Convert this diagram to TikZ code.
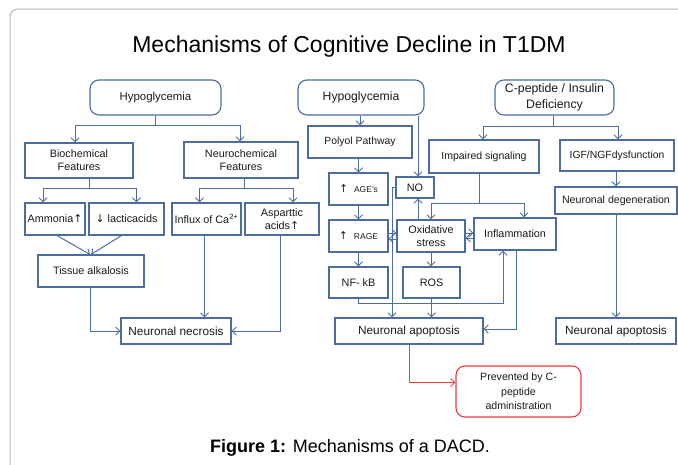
\documentclass[tikz,border=0pt]{standalone}
\usepackage{fontspec}
\setmainfont{Liberation Sans}
\newfontfamily\arrowfont{DejaVu Sans}
\usetikzlibrary{arrows.meta}

\definecolor{boxblue}{HTML}{4A6D9E}
\definecolor{prevred}{HTML}{F03A3A}
\definecolor{framegray}{HTML}{B4B4B4}

\newcommand{\uparr}{{\arrowfont\char"2191}}
\newcommand{\downarr}{{\arrowfont\char"2193}}

\tikzset{
  box/.style={draw=boxblue, line width=1.1pt, inner sep=0pt, align=center,
    font=\fontsize{10.8}{13}\selectfont, text=black!90},
  roundbox/.style={box, rounded corners=9pt},
  redbox/.style={box, draw=prevred, rounded corners=9pt},
  conn/.style={draw=boxblue, line width=1pt, -{Straight Barb[length=4pt,width=8pt]}},
  redconn/.style={conn, draw=prevred},
  bigtext/.style={font=\fontsize{11.8}{14}\selectfont},
  smalltext/.style={font=\fontsize{8.5}{10}\selectfont},
}

\begin{document}
\begin{tikzpicture}[x=1pt,y=-1pt]
    \useasboundingbox (0,0) rectangle (678,464);
    % frame and titles
    \draw[framegray, line width=1pt, rounded corners=8pt] (10,480) -- (10,9) -- (700,9);
    \node[anchor=base, font=\fontsize{23}{27}\selectfont] (title) at (349,52)
        {Mechanisms of Cognitive Decline in T1DM};
    \node[anchor=base, font=\fontsize{18}{22}\selectfont] (caption) at (350,452)
        {\textbf{Figure 1:} Mechanisms of a DACD.};

    % left branch
    \node[roundbox, font=\fontsize{11.4}{13}\selectfont, minimum width=131pt, minimum height=35pt]
        (hypoL) at (155.5,97.5) {Hypoglycemia};
    \node[box, minimum width=108pt, minimum height=35pt] (bio) at (79,160.5) {Biochemical\\Features};
    \node[box, minimum width=114pt, minimum height=36pt] (neuro) at (241,160) {Neurochemical\\Features};
    \node[box, minimum width=60pt, minimum height=32pt] (ammo) at (55,219) {Ammonia\uparr};
    \node[box, minimum width=75pt, minimum height=32pt] (lact) at (126.5,219) {\downarr\ lacticacids};
    \node[box, minimum width=69pt, minimum height=32pt] (influx) at (206.5,219)
        {Influx of Ca\textsuperscript{2+}};
    \node[box, minimum width=74pt, minimum height=32pt] (aspar) at (282,219) {Asparttic\\acids\uparr};
    \node[box, minimum width=106pt, minimum height=32pt] (tissue) at (91,271) {Tissue alkalosis};
    \node[box, bigtext, minimum width=110pt, minimum height=26pt] (necro) at (176,331) {Neuronal necrosis};

    \draw[conn] (hypoL.south) -- ++(0,10) -| ([xshift=-4]bio.north);
    \draw[conn] (hypoL.south) -- ++(0,10) -| ([xshift=-1]neuro.north);
    \draw[conn] ([xshift=10]bio.south) -- ++(0,10) -| ([xshift=-12]ammo.north);
    \draw[conn] ([xshift=10]bio.south) -- ++(0,10) -| ([xshift=10]lact.north);
    \draw[conn] ([xshift=3]neuro.south) -- ++(0,10) -| ([xshift=-7]influx.north);
    \draw[conn] ([xshift=3]neuro.south) -- ++(0,10) -| ([xshift=11]aspar.north);
    \draw[conn] ([xshift=2]ammo.south) -- ([xshift=-1]tissue.north);
    \draw[conn] ([xshift=-5]lact.south) -- (tissue.north);
    \draw[conn] ([xshift=-1]tissue.south) |- (necro.west);
    \draw[conn] ([xshift=-2]influx.south) -- ([xshift=-2]influx.south |- necro.north);
    \draw[conn] ([xshift=-2]aspar.south) |- (necro.east);

    % middle branch
    \node[roundbox, font=\fontsize{12.2}{14}\selectfont, minimum width=126pt, minimum height=35pt]
        (hypoM) at (361,97.5) {Hypoglycemia};
    \node[box, font=\fontsize{10.4}{12}\selectfont, minimum width=104pt, minimum height=32pt]
        (polyol) at (360,142) {Polyol Pathway};
    \node[box, minimum width=59pt, minimum height=32pt] (age) at (358.5,189)
        {\uparr\ \ {\fontsize{8.5}{10}\selectfont AGE's}};
    \node[box, minimum width=59pt, minimum height=32pt] (rage) at (358.5,236)
        {\uparr\ \ {\fontsize{8.5}{10}\selectfont RAGE}};
    \node[box, minimum width=59pt, minimum height=31pt] (nfkb) at (358.5,282.5) {NF- kB};
    \node[box, minimum width=38pt, minimum height=21pt] (no) at (415,187.5) {NO};
    \node[box, minimum width=68pt, minimum height=32pt] (oxi) at (431,236) {Oxidative\\stress};
    \node[box, minimum width=57pt, minimum height=31pt] (ros) at (431.5,282.5) {ROS};
    \node[box, minimum width=82pt, minimum height=32pt] (infl) at (515,234) {Inflammation};
    \node[box, bigtext, minimum width=148pt, minimum height=26pt] (apopM) at (409,331)
        {Neuronal apoptosis};
    \node[redbox, font=\fontsize{10.6}{14.5}\selectfont, minimum width=125pt, minimum height=51pt]
        (prev) at (518.5,391.5) {Prevented by C-\\peptide\\administration};

    \draw[conn] (polyol.north |- hypoM.south) -- (polyol.north);
    \draw[conn] ([xshift=3]no.north |- hypoM.south) -- ([xshift=3]no.north);
    \draw[conn] (age.north |- polyol.south) -- (age.north);
    \draw[conn] (age.south) -- (rage.north);
    \draw[conn] (rage.south) -- (nfkb.north);
    \draw[conn] ([xshift=3]no.south |- oxi.north) -- ([xshift=3]no.south);
    \draw[conn] ([yshift=3]rage.east) -- ([yshift=3]oxi.west);
    \draw[conn] ([yshift=-3]oxi.west) -- ([yshift=-3]rage.east);
    \draw[conn] ([yshift=3]oxi.east) -- ([yshift=3]oxi.east -| infl.west);
    \draw[conn] ([yshift=-4]infl.west) -- ([yshift=-4]infl.west -| oxi.east);
    \draw[conn] (no.west) -| ([xshift=-17]apopM.north);
    \draw[conn] (oxi.south) -- (oxi.south |- ros.north);
    \draw[conn] (ros.south) -- (ros.south |- apopM.north);
    \draw[conn] (nfkb.south) -- ++(0,5) -| ([xshift=-12]infl.south);
    \draw[conn] ([xshift=1]infl.south) |- ([yshift=2]apopM.east);
    \draw[redconn] (apopM.south) |- ([yshift=9]prev.west);

    % right branch
    \node[roundbox, font=\fontsize{12.3}{16.5}\selectfont, minimum width=119pt, minimum height=35pt]
        (cpep) at (554.5,97.5) {C-peptide / Insulin\\Deficiency};
    \node[box, font=\fontsize{10.5}{12}\selectfont, minimum width=110pt, minimum height=33pt]
        (impair) at (484,156.5) {Impaired signaling};
    \node[box, font=\fontsize{10.4}{12}\selectfont, minimum width=114pt, minimum height=31pt]
        (igf) at (617,155.5) {IGF/NGFdysfunction};
    \node[box, font=\fontsize{10.6}{12}\selectfont, minimum width=122pt, minimum height=27pt]
        (degen) at (616,200.5) {Neuronal degeneration};
    \node[box, bigtext, minimum width=120pt, minimum height=26pt] (apopR) at (616,331)
        {Neuronal apoptosis};

    \draw[conn] ([xshift=-5]impair.south) -- ++(0,30) -| (oxi.north);
    \draw[conn] ([xshift=-5]impair.south) -- ++(0,30) -| ([xshift=9]infl.north);
    \draw[conn] ([xshift=-1.5]cpep.south) -- ++(0,11) -| ([xshift=-1]impair.north);
    \draw[conn] ([xshift=-1.5]cpep.south) -- ++(0,11) -| ([xshift=1]igf.north);
    \draw[conn] (degen.north |- igf.south) -- (degen.north);
    \draw[conn] (degen.south) -- (apopR.north);
\end{tikzpicture}
\end{document}
